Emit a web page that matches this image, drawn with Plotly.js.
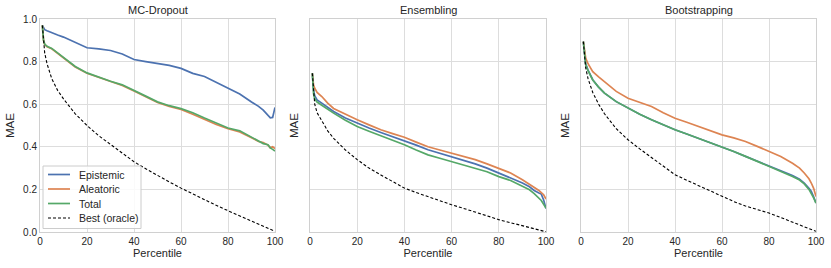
<!DOCTYPE html>
<html>
<head>
<meta charset="utf-8">
<script src="https://cdn.plot.ly/plotly-3.0.1.min.js"></script>
<style>html,body{margin:0;padding:0;background:#fff;}#chart{width:831px;height:268px;}</style>
</head>
<body>
<div id="chart"></div>
<script>
// Percentile positions
const pct = [1, 1.5, 2, 3, 5, 7.5, 10, 15, 20, 25, 30, 35, 40, 45, 50, 55, 60, 65, 70, 75, 80, 85, 90, 93, 95, 97, 98, 99, 100];

const panelTitles = ["MC-Dropout", "Ensembling", "Bootstrapping"];
const seriesNames = ["Epistemic", "Aleatoric", "Total", "Best (oracle)"];

// MC-Dropout
const mcEpistemic = [0.97, 0.955, 0.950, 0.945, 0.935, 0.925, 0.915, 0.890, 0.865, 0.860, 0.852, 0.836, 0.810, 0.800, 0.790, 0.782, 0.768, 0.745, 0.730, 0.703, 0.677, 0.648, 0.610, 0.590, 0.572, 0.550, 0.536, 0.538, 0.585];
const mcAleatoric = [0.97, 0.90, 0.880, 0.870, 0.860, 0.838, 0.815, 0.775, 0.745, 0.725, 0.705, 0.688, 0.662, 0.635, 0.608, 0.590, 0.575, 0.553, 0.528, 0.505, 0.485, 0.470, 0.443, 0.425, 0.420, 0.408, 0.395, 0.400, 0.392];
const mcTotal = [0.97, 0.90, 0.882, 0.872, 0.862, 0.840, 0.817, 0.777, 0.747, 0.727, 0.708, 0.691, 0.666, 0.638, 0.611, 0.593, 0.579, 0.560, 0.535, 0.510, 0.488, 0.475, 0.445, 0.425, 0.415, 0.410, 0.395, 0.388, 0.380];
const mcBest = [0.97, 0.89, 0.84, 0.79, 0.72, 0.665, 0.625, 0.555, 0.500, 0.452, 0.410, 0.368, 0.330, 0.297, 0.265, 0.235, 0.206, 0.178, 0.150, 0.125, 0.100, 0.075, 0.050, 0.036, 0.027, 0.018, 0.013, 0.008, 0.004];

// Ensembling
const enEpistemic = [0.745, 0.665, 0.640, 0.620, 0.605, 0.585, 0.566, 0.535, 0.510, 0.488, 0.467, 0.448, 0.430, 0.408, 0.386, 0.370, 0.355, 0.338, 0.320, 0.300, 0.277, 0.256, 0.230, 0.212, 0.195, 0.183, 0.178, 0.150, 0.110];
const enAleatoric = [0.745, 0.690, 0.675, 0.655, 0.636, 0.605, 0.580, 0.553, 0.527, 0.503, 0.480, 0.462, 0.445, 0.422, 0.400, 0.385, 0.370, 0.357, 0.340, 0.320, 0.300, 0.277, 0.245, 0.225, 0.208, 0.195, 0.185, 0.175, 0.155];
const enTotal = [0.745, 0.650, 0.625, 0.610, 0.595, 0.575, 0.558, 0.525, 0.495, 0.473, 0.452, 0.432, 0.410, 0.385, 0.362, 0.346, 0.330, 0.315, 0.300, 0.283, 0.260, 0.242, 0.215, 0.198, 0.180, 0.160, 0.148, 0.130, 0.112];
const enBest = [0.745, 0.650, 0.600, 0.560, 0.520, 0.475, 0.440, 0.385, 0.340, 0.300, 0.268, 0.235, 0.206, 0.185, 0.165, 0.146, 0.128, 0.111, 0.095, 0.076, 0.058, 0.043, 0.030, 0.021, 0.015, 0.009, 0.006, 0.003, 0.001];

// Bootstrapping
const bsEpistemic = [0.894, 0.830, 0.790, 0.760, 0.715, 0.680, 0.652, 0.612, 0.581, 0.553, 0.527, 0.502, 0.480, 0.460, 0.440, 0.420, 0.400, 0.378, 0.355, 0.333, 0.310, 0.290, 0.265, 0.248, 0.230, 0.205, 0.190, 0.165, 0.136];
const bsAleatoric = [0.894, 0.850, 0.816, 0.790, 0.753, 0.728, 0.706, 0.660, 0.628, 0.610, 0.589, 0.560, 0.534, 0.515, 0.495, 0.475, 0.456, 0.442, 0.425, 0.402, 0.378, 0.355, 0.323, 0.300, 0.277, 0.250, 0.230, 0.205, 0.167];
const bsTotal = [0.894, 0.828, 0.786, 0.757, 0.714, 0.680, 0.652, 0.612, 0.581, 0.553, 0.527, 0.502, 0.480, 0.460, 0.440, 0.420, 0.400, 0.378, 0.355, 0.332, 0.308, 0.287, 0.261, 0.244, 0.226, 0.200, 0.183, 0.160, 0.136];
const bsBest = [0.894, 0.820, 0.770, 0.720, 0.655, 0.600, 0.555, 0.485, 0.433, 0.390, 0.350, 0.308, 0.269, 0.243, 0.218, 0.192, 0.167, 0.143, 0.122, 0.105, 0.089, 0.068, 0.047, 0.034, 0.025, 0.016, 0.011, 0.006, 0.003];

const xTicks = [0, 20, 40, 60, 80, 100];
const yTicks = [0.0, 0.2, 0.4, 0.6, 0.8, 1.0];

const colors = ["#4C72B0", "#DD8452", "#55A868", "#000000"];
const widths = [1.7, 1.7, 1.7, 1.1];
const dashes = ["solid", "solid", "solid", "3px,2px"];
const panels = [
  [mcEpistemic, mcAleatoric, mcTotal, mcBest],
  [enEpistemic, enAleatoric, enTotal, enBest],
  [bsEpistemic, bsAleatoric, bsTotal, bsBest]
];

const traces = [];
panels.forEach((p, i) => {
  p.forEach((ys, j) => {
    traces.push({
      x: pct, y: ys, type: "scatter", mode: "lines",
      name: seriesNames[j],
      xaxis: i === 0 ? "x" : "x" + (i + 1),
      yaxis: i === 0 ? "y" : "y" + (i + 1),
      showlegend: false,
      line: {color: colors[j], width: widths[j], dash: dashes[j]}
    });
  });
});

const W = 831, H = 268;
const xDom = [[40, 275], [310, 546], [581, 816]];
const yDom = [1 - 232 / H, 1 - 19 / H];
const fontFam = "Liberation Sans, Arial, sans-serif";
const px = v => v / W, py = v => 1 - v / H;

const annotations = panelTitles.map((t, i) => ({
  text: t, xref: "paper", yref: "paper",
  x: (xDom[i][0] + xDom[i][1]) / 2 / W, y: py(2),
  xanchor: "center", yanchor: "top", showarrow: false,
  font: {size: 11, family: fontFam, color: "#262626"}
}));

// Hand-built legend (box, line samples, labels) in the first panel
const shapes = [{
  type: "rect", xref: "paper", yref: "paper",
  x0: px(43), x1: px(141), y0: py(166), y1: py(228.5),
  fillcolor: "rgba(255,255,255,0.85)", line: {color: "#cccccc", width: 1}, layer: "above"
}];
const legY = [174.5, 189, 203.5, 218];
seriesNames.forEach((n, j) => {
  shapes.push({
    type: "line", xref: "paper", yref: "paper",
    x0: px(48), x1: px(70), y0: py(legY[j]), y1: py(legY[j]),
    line: {color: colors[j], width: widths[j], dash: j === 3 ? "3px,2px" : "solid"}, layer: "above"
  });
  annotations.push({
    text: n, xref: "paper", yref: "paper", x: px(77), y: py(legY[j]),
    xanchor: "left", yanchor: "middle", showarrow: false,
    font: {size: 10.5, family: fontFam, color: "#262626"}
  });
});

const layout = {
  width: W, height: H,
  margin: {l: 0, r: 0, t: 0, b: 0},
  paper_bgcolor: "#fff", plot_bgcolor: "#fff",
  font: {family: fontFam, size: 10, color: "#262626"},
  showlegend: false,
  annotations: annotations,
  shapes: shapes
};

for (let i = 0; i < 3; i++) {
  const sx = i === 0 ? "" : String(i + 1);
  layout["xaxis" + sx] = {
    domain: [xDom[i][0] / W, xDom[i][1] / W],
    range: [0, 100], tickvals: xTicks, ticks: "",
    showgrid: true, gridcolor: "#dddddd", gridwidth: 1,
    zeroline: false, showline: true, linecolor: "#d0d0d0", linewidth: 1, mirror: true,
    anchor: "y" + sx,
    title: {text: "Percentile", font: {size: 11, family: fontFam, color: "#262626"}, standoff: 3},
    tickfont: {size: 10, color: "#262626"}
  };
  layout["yaxis" + sx] = {
    domain: yDom, range: [0, 1], tickvals: yTicks, ticktext: yTicks.map(v => v.toFixed(1)),
    ticks: "", showticklabels: i === 0,
    showgrid: true, gridcolor: "#dddddd", gridwidth: 1,
    zeroline: false, showline: true, linecolor: "#d0d0d0", linewidth: 1, mirror: true,
    anchor: "x" + sx,
    title: {text: "MAE", font: {size: 11.5, family: fontFam, color: "#262626"}, standoff: i === 0 ? 6 : 7},
    tickfont: {size: 10, color: "#262626"}
  };
}

Plotly.newPlot("chart", traces, layout, {displayModeBar: false, staticPlot: true});
</script>
</body>
</html>
